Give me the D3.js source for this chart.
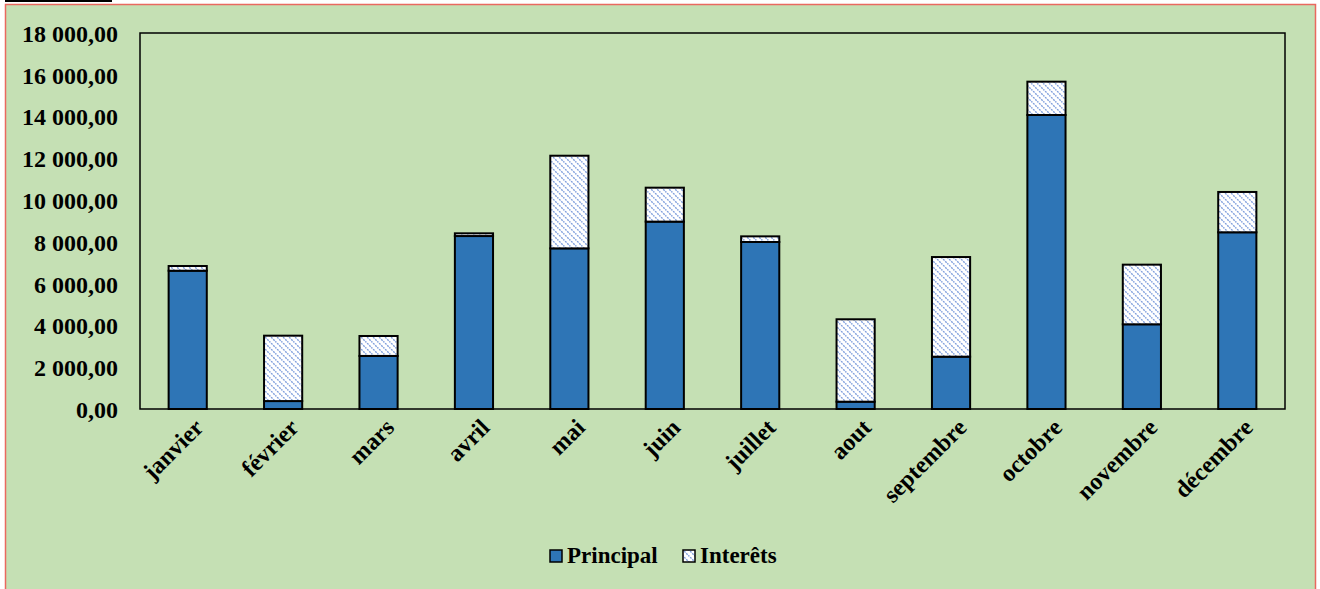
<!DOCTYPE html>
<html>
<head>
<meta charset="utf-8">
<script src="https://cdn.jsdelivr.net/npm/d3@7"></script>
<style>
  html, body { margin: 0; padding: 0; background: #fff; }
  svg { display: block; font-family: "Liberation Serif", "Times New Roman", serif; }
</style>
</head>
<body>
<svg id="visu" width="1320" height="589"></svg>
<script>
// data
var months = ["janvier", "février", "mars", "avril", "mai", "juin",
              "juillet", "aout", "septembre", "octobre", "novembre", "décembre"];
var principal = [6620, 380, 2540, 8280, 7690, 8970, 7995, 350, 2505, 14075, 4055, 8460];
var interets  = [225, 3130, 955, 130, 4435, 1625, 270, 3945, 4770, 1595, 2855, 1930];
var yTicks = [0, 2000, 4000, 6000, 8000, 10000, 12000, 14000, 16000, 18000];
var seriesNames = ["Principal", "Interêts"];

var vis = d3.select("#visu"),
    WIDTH = 1320,
    HEIGHT = 589,
    PLOT = { left: 140, right: 1285, top: 33, bottom: 409 };

var defs = vis.append("defs");
var pat = defs.append("pattern")
    .attr("id", "hatch")
    .attr("patternUnits", "userSpaceOnUse")
    .attr("width", 6).attr("height", 6);
pat.append("rect").attr("width", 6).attr("height", 6).attr("fill", "#fff");
pat.append("path")
    .attr("d", "M-1,-1 L7,7 M-1,5 L1,7 M5,-1 L7,1")
    .attr("stroke", "#7F9FDD")
    .attr("stroke-width", 1.4)
    .attr("stroke-dasharray", "2,1");

// background + frame
vis.append("rect")
    .attr("x", 5.5).attr("y", 4.5)
    .attr("width", 1310).attr("height", 600)
    .attr("fill", "#C5E0B4")
    .attr("stroke", "#E9695F")
    .attr("stroke-width", 1.5);
vis.append("rect")
    .attr("x", 5).attr("y", 0)
    .attr("width", 107).attr("height", 2)
    .attr("fill", "#000");

var xScale = d3.scaleBand()
    .domain(months)
    .range([PLOT.left, PLOT.right])
    .paddingInner(0.6)
    .paddingOuter(0.3);

var yScale = d3.scaleLinear()
    .domain([0, 18000])
    .range([PLOT.bottom, PLOT.top]);

var fmt = function(v) {
  var s = d3.format(",.2f")(v);
  return s.replace(/,/g, " ").replace(".", ",");
};

// plot area
vis.append("rect")
    .attr("x", PLOT.left).attr("y", PLOT.top)
    .attr("width", PLOT.right - PLOT.left)
    .attr("height", PLOT.bottom - PLOT.top)
    .attr("fill", "none")
    .attr("stroke", "#000")
    .attr("stroke-width", 1.5);

var yAxis = d3.axisLeft(yScale)
    .tickValues(yTicks)
    .tickFormat(fmt)
    .tickSize(0)
    .tickPadding(22);

var gy = vis.append("g")
    .attr("transform", "translate(" + PLOT.left + ",0)")
    .call(yAxis);
gy.select(".domain").remove();
gy.selectAll("text")
    .attr("font-family", "Liberation Serif, Times New Roman, serif")
    .attr("font-size", 24)
    .attr("font-weight", "bold")
    .attr("fill", "#000")
    .attr("dy", "0.35em");

var xAxis = d3.axisBottom(xScale).tickSize(0).tickPadding(0);
var gx = vis.append("g")
    .attr("transform", "translate(0," + PLOT.bottom + ")")
    .call(xAxis);
gx.select(".domain").remove();
gx.selectAll("text")
    .attr("font-family", "Liberation Serif, Times New Roman, serif")
    .attr("font-size", 24)
    .attr("font-weight", "bold")
    .attr("fill", "#000")
    .attr("text-anchor", "end")
    .attr("dy", 0)
    .attr("transform", "translate(17,20) rotate(-45)");

// stacked bars
var rows = months.map(function(m, i) {
  return { month: m, Principal: principal[i], "Interêts": interets[i] };
});
var stacked = d3.stack().keys(seriesNames)(rows);
var fills = ["#2E75B6", "url(#hatch)"];

vis.selectAll("g.serie")
    .data(stacked)
    .enter().append("g")
    .attr("class", "serie")
    .attr("fill", function(d, i) { return fills[i]; })
    .selectAll("rect")
    .data(function(d) { return d; })
    .enter().append("rect")
    .attr("x", function(d) { return xScale(d.data.month); })
    .attr("width", xScale.bandwidth())
    .attr("y", function(d) { return yScale(d[1]); })
    .attr("height", function(d) { return yScale(d[0]) - yScale(d[1]); })
    .attr("stroke", "#000")
    .attr("stroke-width", 2);

// legend
var legend = vis.append("g").attr("transform", "translate(550,550)");
var legX = [0, 133];
seriesNames.forEach(function(name, i) {
  var g = legend.append("g").attr("transform", "translate(" + legX[i] + ",0)");
  g.append("rect")
    .attr("width", 12).attr("height", 12)
    .attr("fill", fills[i])
    .attr("stroke", "#000")
    .attr("stroke-width", 1.5);
  g.append("text")
    .attr("x", 17).attr("y", 13)
    .attr("font-size", 23)
    .attr("font-weight", "bold")
    .text(name);
});
</script>
</body>
</html>
